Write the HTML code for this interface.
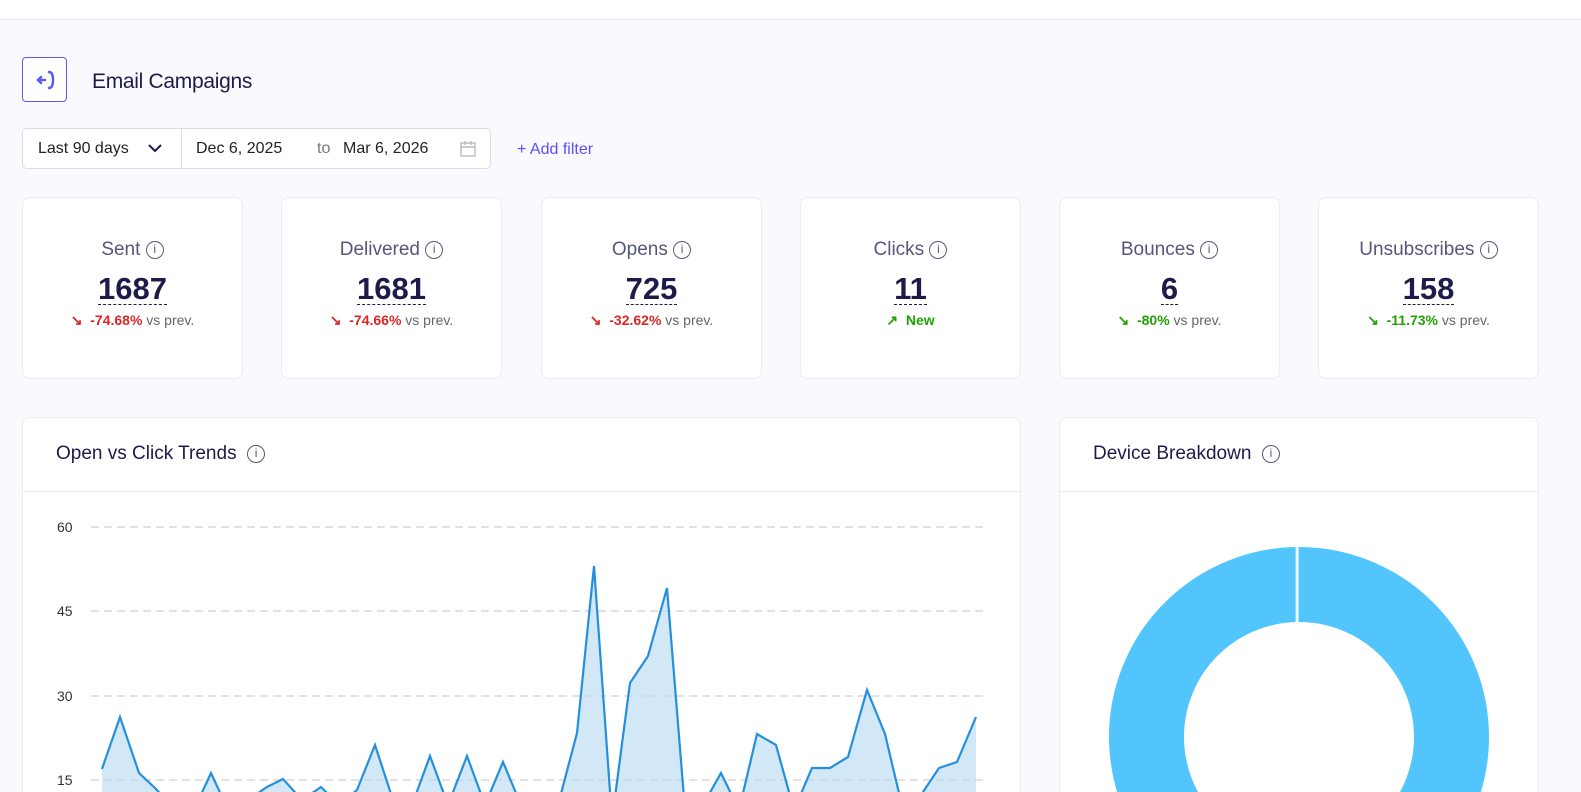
<!DOCTYPE html>
<html><head><meta charset="utf-8"><style>
*{box-sizing:border-box;margin:0;padding:0}
html,body{width:1581px;height:792px;overflow:hidden}
body{background:#f9f9fe;font-family:"Liberation Sans",sans-serif;position:relative;color:#1e1b4b}
.top{position:absolute;left:0;top:0;width:1581px;height:20px;background:#fff;border-bottom:1px solid #e2e2ea}
.back{position:absolute;left:22px;top:57px;width:45px;height:45px;border:1px solid #5b5bf0;border-radius:4px;background:#fff}
h1{position:absolute;left:92px;top:70px;font-size:21px;font-weight:normal;color:#1e1b4b;letter-spacing:-0.3px}
.range{position:absolute;left:22px;top:128px;width:469px;height:41px;background:#fff;border:1px solid #dcdce3;border-radius:5px;font-size:16px;color:#222}
.range span{position:absolute;top:11px}
.af{position:absolute;left:517px;top:141px;color:#5b4ff5;font-size:16px}
.card{position:absolute;top:197px;width:221px;height:182px;background:#fff;border:1px solid #ebebf0;border-radius:8px;text-align:center}
.card .t{margin-top:41px;font-size:19px;color:#55577a}
.card .n{display:inline-block;margin-top:13px;font-size:31px;font-weight:bold;color:#1e1b4b;line-height:30px;border-bottom:1.5px dashed #1e1b4b}
.card .c{margin-top:7px;font-size:14px;color:#666}
.red{color:#dc2626;font-weight:bold}.grn{color:#22a006;font-weight:bold}
.i{display:inline-block;width:18px;height:18px;border:1.5px solid #55577a;border-radius:50%;font-size:12px;line-height:15px;vertical-align:2px;color:#55577a;font-weight:normal;text-align:center}
.panel{position:absolute;top:417px;height:375px;background:#fff;border:1px solid #ebebf0;border-bottom:none;border-radius:8px 8px 0 0}
.panel .h{height:74px;border-bottom:1px solid #ebebf0;font-size:19px;padding:25px 0 0 33px;color:#1e1b4b}
</style></head><body>
<div class="top"></div>
<div class="back"><svg width="45" height="45"><path d="M26 14 q4 0 4 8 q0 8 -4 8" stroke="#5b5bf0" stroke-width="2.5" fill="none" stroke-linecap="round"/><path d="M22 22 h-7 m3 -3 l-3 3 l3 3" stroke="#5b5bf0" stroke-width="2.5" fill="none" stroke-linecap="round"/></svg></div>
<h1>Email Campaigns</h1>
<div class="range"><span style="left:15px">Last 90 days</span><svg style="position:absolute;left:125px;top:14px" width="14" height="10"><path d="M1 2 l6 6 l6 -6" stroke="#1e1b4b" stroke-width="2" fill="none"/></svg><div style="position:absolute;left:158px;top:0;width:1px;height:39px;background:#dcdce3"></div><span style="left:173px">Dec 6, 2025</span><span style="left:294px;color:#777">to</span><span style="left:320px">Mar 6, 2026</span><svg style="position:absolute;left:437px;top:11px" width="16" height="17"><rect x="1" y="3" width="14" height="13" fill="none" stroke="#bbb" stroke-width="1.4"/><path d="M1 7h14M5 1v4M11 1v4" stroke="#bbb" stroke-width="1.4"/></svg></div>
<div class="af">+ Add filter</div>

<div class="card" style="left:22px"><div class="t">Sent <span class="i">i</span></div><div class="n">1687</div><div class="c"><span class="red">↘&nbsp; -74.68%</span> vs prev.</div></div>
<div class="card" style="left:281px"><div class="t">Delivered <span class="i">i</span></div><div class="n">1681</div><div class="c"><span class="red">↘&nbsp; -74.66%</span> vs prev.</div></div>
<div class="card" style="left:541px"><div class="t">Opens <span class="i">i</span></div><div class="n">725</div><div class="c"><span class="red">↘&nbsp; -32.62%</span> vs prev.</div></div>
<div class="card" style="left:800px"><div class="t">Clicks <span class="i">i</span></div><div class="n">11</div><div class="c"><span class="grn">↗&nbsp; New</span></div></div>
<div class="card" style="left:1059px"><div class="t">Bounces <span class="i">i</span></div><div class="n">6</div><div class="c"><span class="grn">↘&nbsp; -80%</span> vs prev.</div></div>
<div class="card" style="left:1318px"><div class="t">Unsubscribes <span class="i">i</span></div><div class="n">158</div><div class="c"><span class="grn">↘&nbsp; -11.73%</span> vs prev.</div></div>

<div class="panel" style="left:22px;width:999px"><div class="h">Open vs Click Trends &nbsp;<span class="i">i</span></div></div>
<div class="panel" style="left:1059px;width:480px"><div class="h">Device Breakdown &nbsp;<span class="i">i</span></div></div>

<svg style="position:absolute;left:0;top:0" width="1581" height="792">
<g stroke="#d8d8d8" stroke-width="1.5" stroke-dasharray="8,5"><line x1="91" y1="527" x2="986" y2="527"/><line x1="91" y1="611" x2="986" y2="611"/><line x1="91" y1="696" x2="986" y2="696"/><line x1="91" y1="780" x2="986" y2="780"/></g>
<g font-size="14" fill="#333" font-family="Liberation Sans"><text x="57" y="532">60</text><text x="57" y="616">45</text><text x="57" y="701">30</text><text x="57" y="785">15</text></g>
<path d="M102 769 L120 717 L139 773 L156 789 L175 810 L193 812 L211 773 L229 812 L248 800 L267 787 L283 779 L302 800 L321 787 L339 805 L357 790 L375 745 L393 800 L412 805 L430 756 L448 805 L467 756 L485 805 L503 762 L521 805 L540 810 L558 805 L577 733 L594 566 L612 820 L630 683 L648 656 L667 588 L685 810 L703 805 L721 773 L739 810 L757 734 L776 745 L794 810 L812 768 L830 768 L848 757 L867 690 L885 734 L903 810 L921 795 L939 768 L957 762 L976 717 L976 800 L102 800Z" fill="#bcdcf3" opacity="0.65"/>
<path d="M102 769 L120 717 L139 773 L156 789 L175 810 L193 812 L211 773 L229 812 L248 800 L267 787 L283 779 L302 800 L321 787 L339 805 L357 790 L375 745 L393 800 L412 805 L430 756 L448 805 L467 756 L485 805 L503 762 L521 805 L540 810 L558 805 L577 733 L594 566 L612 820 L630 683 L648 656 L667 588 L685 810 L703 805 L721 773 L739 810 L757 734 L776 745 L794 810 L812 768 L830 768 L848 757 L867 690 L885 734 L903 810 L921 795 L939 768 L957 762 L976 717" fill="none" stroke="#2490dc" stroke-width="2.2"/>
<circle cx="1299" cy="737" r="152.5" fill="none" stroke="#53c5fd" stroke-width="75"/>
<line x1="1297" y1="546" x2="1297" y2="622" stroke="#fff" stroke-width="3"/>
<line x1="1296" y1="547" x2="1296" y2="621" stroke="#cfe8ee" stroke-width="1"/>
</svg>
</body></html>
